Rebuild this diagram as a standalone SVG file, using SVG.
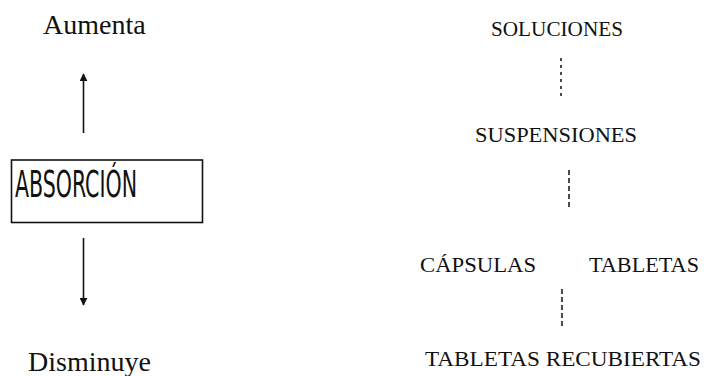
<svg xmlns="http://www.w3.org/2000/svg" width="711" height="376" viewBox="0 0 711 376">
  <style>
    .serif { font-family: "Liberation Serif", "Times New Roman", serif; fill: #111; }
    .big { font-size: 28px; }
    .caps { font-size: 21px; }
    .hand { font-family: "Liberation Sans Narrow", "DejaVu Sans Condensed", "Liberation Sans", sans-serif; font-size: 37px; fill: #111; }
    .line { stroke: #111; stroke-width: 1.6; fill: none; }
    .dots { stroke: #111; stroke-width: 1.5; fill: none; stroke-dasharray: 3 4; }
    .dash { stroke: #111; stroke-width: 1.5; fill: none; stroke-dasharray: 5 3; }
  </style>
  <defs>
    <marker id="head" viewBox="0 0 10 10" refX="9" refY="5" markerWidth="5" markerHeight="5" orient="auto">
      <path d="M0,0 L10,5 L0,10 Z" fill="#111"/>
    </marker>
  </defs>
  <rect width="711" height="376" fill="#fff"/>

  <!-- left column: absorption scale -->
  <g id="aumenta">
    <text class="serif big" x="43" y="34">Aumenta</text>
  </g>
  <g id="absorcion">
    <rect x="11.5" y="160" width="191" height="62.5" fill="none" stroke="#111" stroke-width="1.6"/>
    <text class="hand" x="15" y="197" textLength="122" lengthAdjust="spacingAndGlyphs">ABSORCIÓN</text>
  </g>
  <g id="disminuye">
    <text class="serif big" x="28" y="371">Disminuye</text>
  </g>

  <!-- right column: dosage forms -->
  <g id="soluciones">
    <text class="serif caps" x="491" y="36" textLength="132" lengthAdjust="spacingAndGlyphs">SOLUCIONES</text>
  </g>
  <g id="suspensiones">
    <text class="serif caps" x="475" y="142" textLength="162" lengthAdjust="spacingAndGlyphs">SUSPENSIONES</text>
  </g>
  <g id="capsulas">
    <text class="serif caps" x="420" y="272" textLength="116" lengthAdjust="spacingAndGlyphs">CÁPSULAS</text>
  </g>
  <g id="tabletas">
    <text class="serif caps" x="589" y="272" textLength="110" lengthAdjust="spacingAndGlyphs">TABLETAS</text>
  </g>
  <g id="tabletas-recubiertas">
    <text class="serif caps" x="425" y="366" textLength="276" lengthAdjust="spacingAndGlyphs">TABLETAS RECUBIERTAS</text>
  </g>

  <!-- connectors -->
  <g id="connectors">
    <line class="line" x1="83.5" y1="133" x2="83.5" y2="74" marker-end="url(#head)"/>
    <line class="line" x1="83.5" y1="238" x2="83.5" y2="305" marker-end="url(#head)"/>
    <line class="dots" x1="561" y1="58" x2="561" y2="98"/>
    <line class="dash" x1="569" y1="170" x2="569" y2="210"/>
    <line class="dash" x1="562" y1="289" x2="562" y2="328"/>
  </g>
</svg>
